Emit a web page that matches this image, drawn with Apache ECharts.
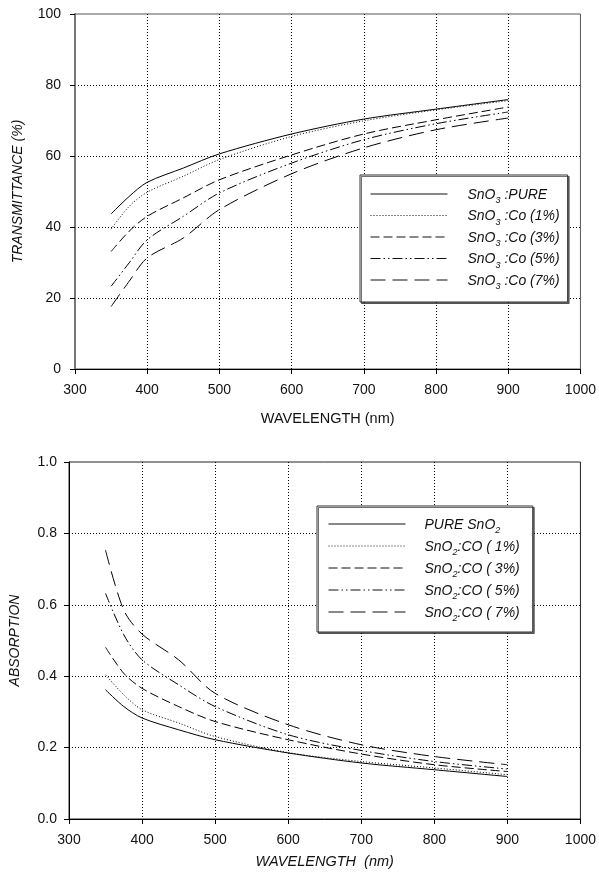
<!DOCTYPE html>
<html>
<head>
<meta charset="utf-8">
<script src="https://cdn.jsdelivr.net/npm/echarts@6/dist/echarts.min.js"></script>
<style>
  html, body { margin: 0; padding: 0; background: #fff; }
  #chart { width: 599px; height: 879px; }
</style>
</head>
<body>
<div id="chart"></div>
<script>
// Wavelength samples (nm)
const wavelengths = [350, 375, 400, 450, 500, 600, 700, 800, 900];

// Transmittance (%) of the films
const transPure = [43.7, 48.6, 52.6, 56.6, 60.6, 66.2, 70.4, 73.2, 75.9];
const transCo1  = [39.4, 45.8, 49.8, 54.3, 59.0, 65.5, 69.9, 73.0, 75.6];
const transCo3  = [33.1, 38.8, 43.0, 48.2, 53.3, 60.3, 66.2, 70.2, 73.8];
const transCo5  = [23.3, 29.9, 36.4, 43.0, 49.6, 58.0, 64.6, 69.1, 72.4];
const transCo7  = [17.6, 24.7, 31.3, 36.9, 44.9, 55.0, 62.3, 67.4, 70.7];

// Absorption of the films
const absPure = [0.362, 0.315, 0.283, 0.250, 0.222, 0.185, 0.157, 0.138, 0.119];
const absCo1  = [0.404, 0.348, 0.306, 0.269, 0.231, 0.186, 0.161, 0.143, 0.124];
const absCo3  = [0.481, 0.408, 0.366, 0.315, 0.273, 0.222, 0.182, 0.152, 0.133];
const absCo5  = [0.632, 0.516, 0.446, 0.376, 0.315, 0.236, 0.192, 0.161, 0.140];
const absCo7  = [0.753, 0.585, 0.518, 0.446, 0.352, 0.264, 0.208, 0.175, 0.152];

// Series names
const transNames = ['SnO3 :PURE', 'SnO3 :Co (1%)', 'SnO3 :Co (3%)', 'SnO3 :Co (5%)', 'SnO3 :Co (7%)'];
const absNames = ['PURE SnO2', 'SnO2:CO ( 1%)', 'SnO2:CO ( 3%)', 'SnO2:CO ( 5%)', 'SnO2:CO ( 7%)'];

// Legend text with subscripts, as rich-text strings ({g} is the gap after the line sample)
const legendRich = {
  'SnO3 :PURE':    '{g| }{t|SnO}{s|3}{t| :PURE}',
  'SnO3 :Co (1%)': '{g| }{t|SnO}{s|3}{t| :Co (1%)}',
  'SnO3 :Co (3%)': '{g| }{t|SnO}{s|3}{t| :Co (3%)}',
  'SnO3 :Co (5%)': '{g| }{t|SnO}{s|3}{t| :Co (5%)}',
  'SnO3 :Co (7%)': '{g| }{t|SnO}{s|3}{t| :Co (7%)}',
  'PURE SnO2':     '{g| }{t|PURE SnO}{s|2}',
  'SnO2:CO ( 1%)': '{g| }{t|SnO}{s|2}{t|:CO ( 1%)}',
  'SnO2:CO ( 3%)': '{g| }{t|SnO}{s|2}{t|:CO ( 3%)}',
  'SnO2:CO ( 5%)': '{g| }{t|SnO}{s|2}{t|:CO ( 5%)}',
  'SnO2:CO ( 7%)': '{g| }{t|SnO}{s|2}{t|:CO ( 7%)}'
};

const FONT = 'Liberation Sans, Arial, sans-serif';

// Dash patterns: solid, dotted, short dash, dash-dot-dot, long dash
const dashes = ['solid', [1, 2], [9, 4], [10, 3, 1.5, 3, 1.5, 3], [15, 7]];

function pairs(ys) {
  return wavelengths.map((x, i) => [x, ys[i]]);
}

function makeSeries(names, sets, gridIdx) {
  return names.map((n, i) => ({
    name: n,
    type: 'line',
    xAxisIndex: gridIdx,
    yAxisIndex: gridIdx,
    data: pairs(sets[i]),
    smooth: 0.3,
    showSymbol: false,
    symbol: 'none',
    lineStyle: { color: '#000', width: 1, type: dashes[i] },
    itemStyle: { color: '#000' },
    z: 5
  }));
}

const dotted = { color: '#000', width: 1, type: [1, 2] };

function xAxisCfg(gridIdx, nameItalic, gap) {
  return {
    type: 'value', gridIndex: gridIdx, min: 300, max: 1000, interval: 100,
    name: nameItalic ? 'WAVELENGTH  (nm)' : 'WAVELENGTH (nm)',
    nameLocation: 'middle', nameGap: gap,
    nameTextStyle: { fontFamily: FONT, fontSize: 14.5, color: '#111', fontStyle: nameItalic ? 'italic' : 'normal' },
    axisLine: { show: true, onZero: false, lineStyle: { color: '#000', width: 1 } },
    axisTick: { show: true, inside: false, length: 5, lineStyle: { color: '#000' } },
    axisLabel: { fontFamily: FONT, fontSize: 14, color: '#111', margin: 14, formatter: v => String(v) },
    splitLine: { show: true, showMinLine: false, showMaxLine: false, lineStyle: dotted }
  };
}

function yAxisCfg(gridIdx, name, max, interval, fmt, gap, margin, axisStyle) {
  return {
    type: 'value', gridIndex: gridIdx, min: 0, max: max, interval: interval,
    name: name, nameLocation: 'middle', nameGap: gap,
    nameTextStyle: { fontFamily: FONT, fontSize: 14, color: '#111', fontStyle: 'italic' },
    axisLine: { show: true, onZero: false, lineStyle: axisStyle },
    axisTick: { show: true, inside: false, length: 5, lineStyle: { color: '#000' } },
    axisLabel: { fontFamily: FONT, fontSize: 14, color: '#111', margin: margin, formatter: fmt },
    splitLine: { show: true, showMinLine: false, showMaxLine: false, lineStyle: dotted }
  };
}

function legendText(spacer) {
  return {
    fontFamily: FONT, fontSize: 14, color: '#111',
    rich: {
      g: { width: spacer, fontSize: 14, lineHeight: 16 },
      t: { fontFamily: FONT, fontSize: 14, fontStyle: 'italic', color: '#111', lineHeight: 16, verticalAlign: 'bottom' },
      s: { fontFamily: FONT, fontSize: 9, fontStyle: 'italic', color: '#111', lineHeight: 16, verticalAlign: 'bottom', padding: [0, 0, -3, 0] }
    }
  };
}

function legendCfg(names, left, top, gap, pad, spacer) {
  return {
    data: names,
    orient: 'vertical',
    left: left, top: top,
    itemWidth: 77, itemHeight: 16, itemGap: gap,
    padding: pad,
    backgroundColor: '#fff',
    borderColor: '#333', borderWidth: 1,
    shadowColor: 'rgba(0,0,0,0.55)', shadowBlur: 0, shadowOffsetX: 1.5, shadowOffsetY: 1.5,
    itemStyle: { opacity: 0 },
    lineStyle: { width: 1, color: '#111' },
    formatter: n => legendRich[n],
    textStyle: legendText(spacer),
    selectedMode: false,
    z: 10
  };
}

const chart = echarts.init(document.getElementById('chart'), null, { renderer: 'canvas' });

chart.setOption({
  backgroundColor: '#fff',
  animation: false,
  grid: [
    { left: 75, top: 14, width: 510, height: 355, show: true, borderColor: '#555', borderWidth: 1, backgroundColor: 'transparent' },
    { left: 69, top: 462, width: 515, height: 357, show: true, borderColor: '#222', borderWidth: 1, backgroundColor: 'transparent' }
  ],
  xAxis: [
    xAxisCfg(0, false, 42),
    xAxisCfg(1, true, 35)
  ],
  yAxis: [
    yAxisCfg(0, 'TRANSMITTANCE (%)', 100, 20, v => String(v), 50, 14, { color: '#777', width: 2 }),
    yAxisCfg(1, 'ABSORPTION', 1.0, 0.2, v => v.toFixed(1), 47, 12, { color: '#000', width: 1 })
  ],
  legend: [
    legendCfg(transNames, 360, 175, 3.5, [12, 8, 11, 10], 15),
    legendCfg(absNames, 317, 506, 4, [11, 13, 9, 11], 14)
  ],
  series: [
    ...makeSeries(transNames, [transPure, transCo1, transCo3, transCo5, transCo7], 0),
    ...makeSeries(absNames, [absPure, absCo1, absCo3, absCo5, absCo7], 1)
  ]
});
</script>
</body>
</html>
